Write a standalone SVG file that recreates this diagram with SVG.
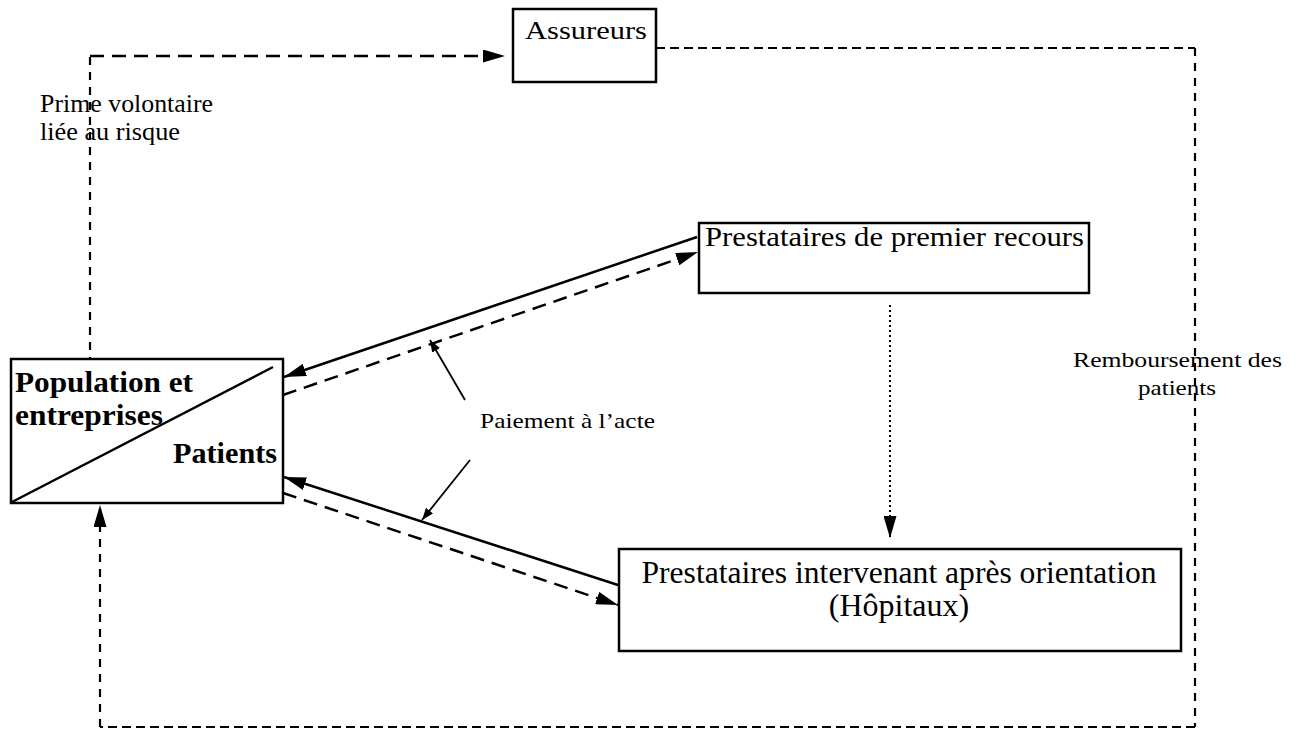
<svg xmlns="http://www.w3.org/2000/svg" width="1303" height="732" viewBox="0 0 1303 732">
  <style>
    .box { fill: #fff; stroke: #000; stroke-width: 2.5; }
    .t { font-family: "Liberation Serif", "Times New Roman", serif; fill: #000; }
    .b { font-weight: bold; }
    .solid { fill: none; stroke: #000; stroke-width: 2.5; }
    .thin { fill: none; stroke: #000; stroke-width: 1.8; }
    .dash { fill: none; stroke: #000; stroke-width: 2.5; stroke-dasharray: 14 8; }
    .dashv { fill: none; stroke: #000; stroke-width: 2.2; stroke-dasharray: 8 7; }
    .dashs { fill: none; stroke: #000; stroke-width: 2.2; stroke-dasharray: 9 5; }
    .dot { fill: none; stroke: #000; stroke-width: 2; stroke-dasharray: 2 3; }
  </style>
  <defs>
    <marker id="ah" viewBox="0 0 22 13" refX="22" refY="6.5" markerWidth="22" markerHeight="13" orient="auto" markerUnits="userSpaceOnUse">
      <path d="M0,0 L22,6.5 L0,13 z" fill="#000"/>
    </marker>
    <marker id="ahs" viewBox="0 0 12 9" refX="12" refY="4.5" markerWidth="12" markerHeight="9" orient="auto" markerUnits="userSpaceOnUse">
      <path d="M0,0 L12,4.5 L0,9 z" fill="#000"/>
    </marker>
  </defs>

  <!-- connectors -->
  <g id="connectors">
    <!-- premium: population to insurers -->
    <path class="dashv" d="M90,365 V56"/>
    <path class="dash" d="M90,56 H505" marker-end="url(#ah)"/>
    <!-- reimbursement: insurers back to population -->
    <path class="dashs" d="M656,48 H1195"/>
    <path class="dashv" d="M1195,48 V727"/>
    <path class="dashs" d="M1195,727 H100"/>
    <path class="dashv" d="M100,727 V505" marker-end="url(#ah)"/>
    <!-- first-line providers exchanges -->
    <path class="solid" d="M697,237 L284,377" marker-end="url(#ah)"/>
    <path class="dash" d="M283,395 L698,252" marker-end="url(#ah)"/>
    <!-- hospital exchanges -->
    <path class="solid" d="M618,585 L284,477" marker-end="url(#ah)"/>
    <path class="dash" d="M283,493 L618,605" marker-end="url(#ah)"/>
    <!-- referral -->
    <path class="dot" d="M890,305 V538" marker-end="url(#ah)"/>
    <!-- label pointers -->
    <path class="thin" d="M465,400 L430,340" marker-end="url(#ahs)"/>
    <path class="thin" d="M470,460 L422,520" marker-end="url(#ahs)"/>
  </g>

  <g id="assureurs">
    <rect class="box" x="513" y="9" width="143" height="73"/>
    <text class="t" x="525" y="39" font-size="26" textLength="122" lengthAdjust="spacingAndGlyphs">Assureurs</text>
  </g>

  <g id="population">
    <rect class="box" x="11" y="359" width="272" height="144"/>
    <path class="solid" stroke-width="3" d="M12,502 L273,367"/>
    <text class="t b" x="15" y="392" font-size="29" textLength="178" lengthAdjust="spacingAndGlyphs">Population et</text>
    <text class="t b" x="15" y="425" font-size="29" textLength="148" lengthAdjust="spacingAndGlyphs">entreprises</text>
    <text class="t b" x="173" y="463" font-size="29" textLength="104" lengthAdjust="spacingAndGlyphs">Patients</text>
  </g>

  <g id="premier-recours">
    <rect class="box" x="699" y="223" width="390" height="70"/>
    <text class="t" x="705" y="246" font-size="27" textLength="379" lengthAdjust="spacingAndGlyphs">Prestataires de premier recours</text>
  </g>

  <g id="hopitaux">
    <rect class="box" x="619" y="549" width="562" height="102"/>
    <text class="t" x="899" y="583" font-size="32" text-anchor="middle" textLength="515" lengthAdjust="spacingAndGlyphs">Prestataires intervenant après orientation</text>
    <text class="t" x="899" y="616" font-size="32" text-anchor="middle">(Hôpitaux)</text>
  </g>

  <g id="labels">
    <text class="t" x="40" y="112" font-size="25" textLength="173" lengthAdjust="spacingAndGlyphs">Prime volontaire</text>
    <text class="t" x="40" y="140" font-size="25" textLength="140" lengthAdjust="spacingAndGlyphs">liée au risque</text>
    <text class="t" x="480" y="428" font-size="22" textLength="175" lengthAdjust="spacingAndGlyphs">Paiement à l’acte</text>
    <text class="t" x="1073" y="367" font-size="22" textLength="209" lengthAdjust="spacingAndGlyphs">Remboursement des</text>
    <text class="t" x="1138" y="395" font-size="22" textLength="78" lengthAdjust="spacingAndGlyphs">patients</text>
  </g>
</svg>
